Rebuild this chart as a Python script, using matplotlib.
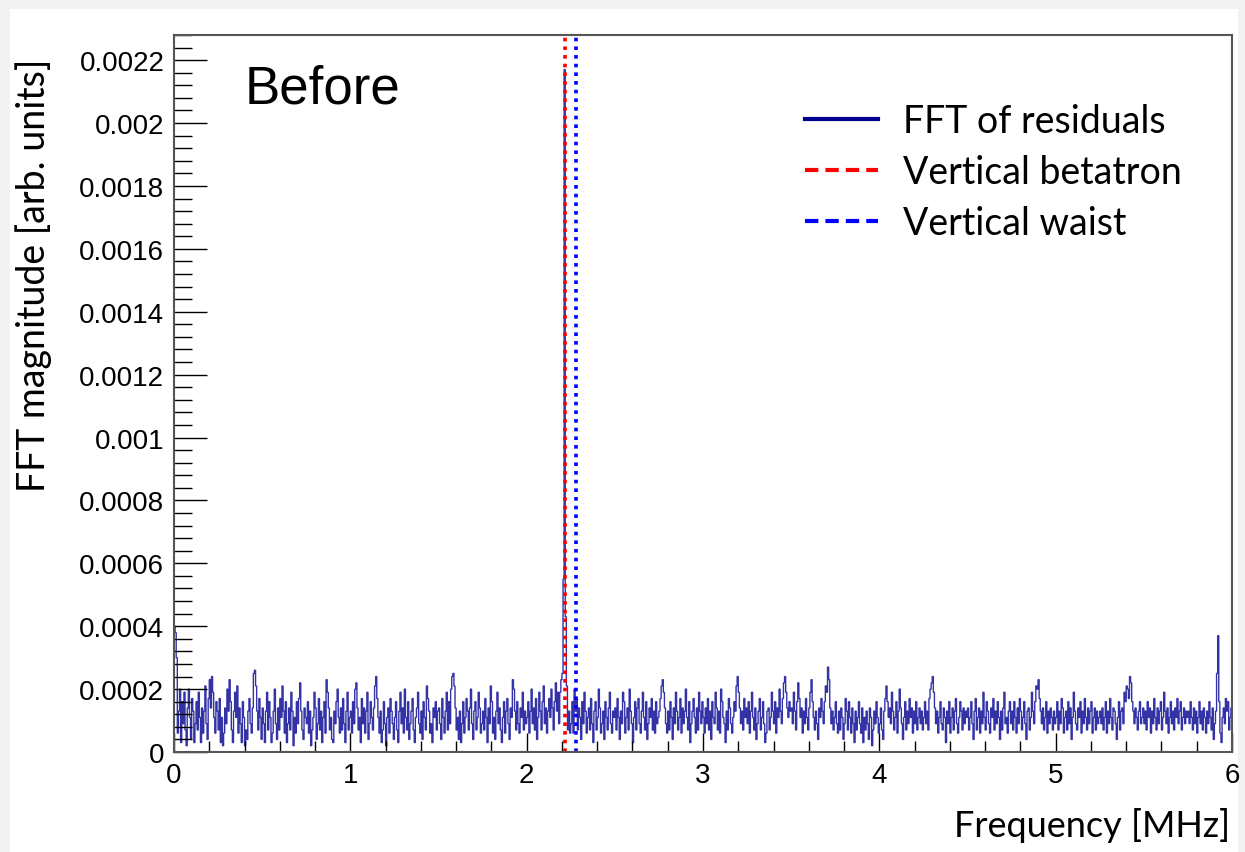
import numpy as np
import matplotlib.pyplot as plt
from matplotlib.lines import Line2D
from matplotlib.patches import Rectangle
from matplotlib.ticker import MultipleLocator, FuncFormatter

# FFT magnitude per bin (units of 1e-5), 0-6 MHz, 40 bins per 0.25 MHz
fft_mag = [
    40, 38, 30, 6, 13, 20, 3, 16, 9, 19, 7, 2, 14, 20, 11, 4, 17, 13, 3, 9,
    16, 7, 19, 11, 3, 14, 6, 13, 21, 9, 4, 17, 23, 14, 24, 19, 11, 6, 16, 13,
    7, 17, 3, 11, 2, 6, 14, 9, 20, 13, 23, 16, 7, 3, 13, 19, 11, 21, 6, 14,
    9, 3, 16, 11, 2, 7, 4, 13, 17, 9, 6, 14, 25, 26, 21, 13, 7, 17, 11, 4,
    14, 9, 3, 13, 19, 7, 16, 11, 3, 6, 13, 20, 9, 4, 14, 7, 17, 11, 21, 13,
    6, 16, 3, 9, 14, 7, 19, 13, 2, 11, 6, 16, 9, 17, 22, 13, 7, 4, 14, 11,
    9, 16, 6, 13, 2, 7, 11, 19, 14, 4, 9, 17, 7, 13, 3, 11, 16, 6, 23, 19,
    14, 7, 11, 4, 3, 13, 9, 16, 20, 11, 6, 14, 7, 17, 9, 3, 13, 19, 7, 11,
    13, 6, 16, 9, 20, 22, 14, 7, 11, 3, 17, 9, 14, 6, 13, 19, 4, 9, 16, 11,
    7, 14, 21, 24, 17, 11, 6, 13, 3, 7, 16, 9, 2, 11, 14, 6, 17, 13, 9, 4,
    11, 16, 7, 3, 13, 19, 9, 14, 6, 20, 11, 7, 16, 4, 9, 13, 17, 7, 3, 11,
    14, 19, 9, 6, 13, 4, 16, 11, 7, 21, 17, 13, 6, 9, 3, 14, 11, 16, 7, 13,
    14, 9, 4, 17, 11, 6, 13, 19, 7, 16, 9, 20, 24, 25, 21, 14, 7, 11, 4, 13,
    3, 9, 16, 6, 11, 17, 13, 7, 14, 20, 9, 4, 13, 16, 7, 11, 19, 14, 6, 9,
    13, 7, 17, 11, 3, 14, 9, 21, 16, 6, 11, 4, 13, 19, 9, 14, 7, 3, 11, 16,
    6, 13, 17, 9, 4, 14, 11, 23, 20, 13, 7, 16, 9, 6, 14, 11, 19, 7, 13, 9,
    11, 16, 6, 13, 20, 9, 14, 7, 17, 4, 11, 19, 13, 7, 16, 21, 9, 14, 6, 13,
    17, 11, 20, 14, 7, 16, 22, 13, 19, 9, 19, 23, 25, 55, 217, 43, 21, 7, 13, 6,
    9, 16, 6, 20, 13, 17, 7, 14, 11, 4, 16, 9, 19, 13, 6, 11, 14, 7, 17, 9,
    3, 13, 16, 7, 11, 20, 14, 6, 9, 13, 4, 16, 11, 7, 14, 19, 9, 6, 13, 11,
    14, 7, 17, 11, 4, 13, 9, 19, 16, 6, 11, 14, 7, 20, 13, 9, 3, 11, 16, 7,
    14, 17, 9, 6, 13, 19, 11, 7, 16, 4, 9, 14, 11, 17, 7, 13, 6, 16, 9, 11,
    13, 17, 21, 23, 19, 14, 9, 6, 13, 7, 16, 11, 4, 14, 9, 19, 13, 7, 11, 17,
    6, 14, 9, 13, 20, 11, 7, 16, 3, 9, 13, 17, 11, 6, 14, 7, 19, 13, 9, 16,
    11, 6, 14, 9, 17, 7, 13, 4, 16, 11, 9, 19, 14, 7, 13, 6, 20, 16, 11, 9,
    3, 13, 7, 17, 14, 9, 6, 11, 16, 13, 21, 24, 19, 14, 9, 13, 7, 17, 11, 14,
    9, 16, 6, 13, 19, 11, 7, 14, 4, 9, 13, 17, 7, 11, 16, 9, 3, 6, 13, 14,
    7, 11, 19, 13, 9, 16, 6, 14, 11, 20, 13, 9, 17, 22, 24, 19, 14, 11, 16, 13,
    14, 9, 19, 13, 7, 16, 22, 17, 11, 14, 6, 13, 9, 17, 11, 7, 14, 19, 23, 16,
    11, 7, 13, 9, 4, 14, 11, 17, 13, 9, 16, 21, 19, 27, 23, 14, 9, 13, 7, 11,
    16, 9, 6, 13, 7, 14, 11, 4, 9, 17, 13, 7, 16, 11, 6, 14, 9, 3, 13, 7,
    11, 16, 9, 6, 14, 3, 11, 7, 13, 9, 4, 14, 11, 2, 7, 13, 9, 16, 11, 6,
    9, 14, 7, 4, 13, 17, 21, 16, 11, 14, 9, 19, 13, 7, 11, 16, 6, 13, 20, 14,
    9, 4, 11, 16, 7, 13, 9, 17, 11, 14, 6, 13, 9, 16, 7, 11, 14, 9, 13, 7,
    11, 16, 9, 13, 7, 17, 20, 22, 24, 19, 14, 9, 13, 6, 11, 16, 9, 7, 14, 11,
    3, 13, 9, 16, 6, 11, 14, 7, 13, 17, 9, 6, 11, 16, 13, 7, 14, 9, 13, 11,
    14, 7, 11, 16, 9, 4, 13, 17, 7, 11, 14, 6, 13, 9, 19, 11, 7, 16, 13, 9,
    6, 14, 11, 17, 7, 13, 9, 16, 11, 4, 13, 7, 14, 19, 9, 11, 6, 13, 16, 9,
    13, 7, 16, 11, 6, 14, 9, 17, 13, 7, 11, 16, 9, 4, 13, 14, 7, 11, 19, 13,
    9, 16, 21, 20, 23, 17, 13, 9, 14, 7, 11, 16, 6, 13, 9, 14, 11, 7, 13, 9,
    11, 16, 7, 13, 9, 17, 14, 6, 11, 13, 7, 16, 9, 14, 4, 11, 19, 13, 9, 7,
    14, 11, 16, 6, 13, 9, 17, 11, 7, 14, 9, 13, 16, 6, 11, 14, 7, 13, 9, 11,
    13, 9, 14, 7, 11, 16, 6, 13, 9, 17, 11, 7, 14, 13, 9, 4, 11, 16, 7, 13,
    14, 9, 19, 16, 21, 20, 17, 24, 22, 16, 13, 9, 14, 11, 7, 13, 16, 9, 11, 14,
    9, 13, 7, 16, 11, 14, 6, 13, 9, 17, 11, 7, 14, 9, 13, 16, 7, 11, 19, 13,
    9, 14, 6, 11, 16, 9, 13, 7, 14, 11, 17, 9, 13, 16, 7, 11, 14, 9, 13, 11,
    13, 9, 16, 11, 7, 14, 9, 13, 6, 11, 16, 9, 13, 7, 14, 11, 6, 13, 9, 16,
    11, 7, 14, 4, 9, 13, 25, 37, 16, 6, 3, 11, 14, 9, 17, 13, 16, 7, 11, 14,
]
f_min, f_max = 0.0, 6.0     # MHz
betatron_freq = 2.218       # MHz
waist_freq = 2.28           # MHz

mag = np.array(fft_mag) * 1e-5
edges = np.linspace(f_min, f_max, len(mag) + 1)

W, H = 1245, 853
fig = plt.figure(figsize=(W / 100, H / 100), dpi=100, facecolor='#f2f2f2')
fig.patches.append(Rectangle((10 / W, 0), 1228 / W, 843 / H, transform=fig.transFigure,
                             facecolor='white', edgecolor='none', zorder=-10))
ax = fig.add_axes([174 / W, 1 - 753 / H, (1232 - 174) / W, (753 - 36) / H])
ax.set_facecolor('none')

ax.stairs(mag, edges, color='#000090', lw=1.0, alpha=0.8)
ax.axvline(betatron_freq, color='red', ls=(0, (1, 1.4)), lw=2.6)
ax.axvline(waist_freq, color='blue', ls=(0, (1, 1.4)), lw=2.6)

ax.set_xlim(f_min, f_max)
ax.set_ylim(0, 0.00228)

tick_font = 'Liberation Sans'
ax.xaxis.set_major_locator(MultipleLocator(1))
ax.xaxis.set_minor_locator(MultipleLocator(0.2))
ax.yaxis.set_major_locator(MultipleLocator(0.0002))
ax.yaxis.set_minor_locator(MultipleLocator(0.00004))
ax.yaxis.set_major_formatter(FuncFormatter(lambda v, p: '0' if abs(v) < 1e-12 else f'{v:g}'))
ax.xaxis.set_major_formatter(FuncFormatter(lambda v, p: f'{v:g}'))
ax.tick_params(axis='y', which='major', direction='in', length=24, width=1, pad=7, labelsize=20)
ax.tick_params(axis='y', which='minor', direction='in', length=13, width=1)
ax.tick_params(axis='x', which='major', direction='in', length=14, width=1, pad=7, labelsize=20)
ax.tick_params(axis='x', which='minor', direction='in', length=8, width=1)
for lab in ax.get_xticklabels() + ax.get_yticklabels():
    lab.set_fontfamily(tick_font)
for s in ax.spines.values():
    s.set_color('#555555')
    s.set_linewidth(1.5)

label_font = 'Lato'
ax.set_ylabel('FFT magnitude [arb. units]', fontsize=27, family=label_font)
ax.yaxis.set_label_coords(-122 / (1232 - 174), 1 - (275 - 36) / (753 - 36))
fig.text(1230 / W, 1 - 826 / H, 'Frequency [MHz]', ha='right', va='center',
         fontsize=26, family=label_font)

ax.text(245 / W, 1 - 90 / H, 'Before', transform=fig.transFigure, ha='left', va='center',
        fontsize=38, family=tick_font)

handles = [
    Line2D([], [], color='#000090', lw=3),
    Line2D([], [], color='red', lw=3, ls=(0, (3.2, 1.7))),
    Line2D([], [], color='blue', lw=3, ls=(0, (3.2, 1.7))),
]
labels = ['FFT of residuals', 'Vertical betatron', 'Vertical waist']
ax.legend(handles, labels, loc='upper left', bbox_to_anchor=(805 / W, 1 - 104 / H),
          bbox_transform=fig.transFigure, frameon=False, prop={'family': label_font, 'size': 27},
          handlelength=1.95, handletextpad=0.67, labelspacing=0.4, borderpad=0, borderaxespad=0)

fig.savefig('out.png', dpi=100, facecolor=fig.get_facecolor())
